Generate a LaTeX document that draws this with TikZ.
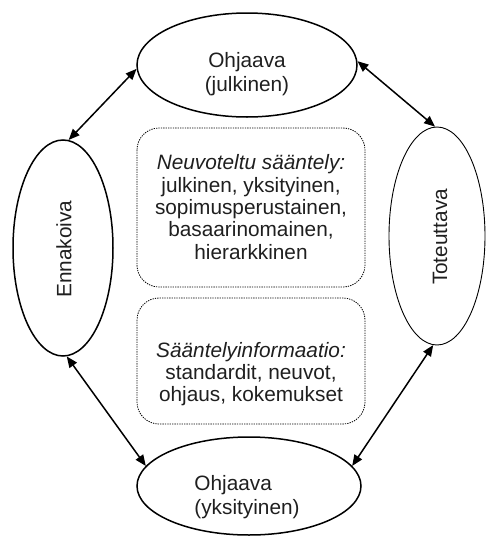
\documentclass[tikz,border=0pt]{standalone}
\usepackage{fontspec}
\setmainfont{Liberation Sans}
\usetikzlibrary{shapes.geometric,arrows.meta}
\begin{document}
\begin{tikzpicture}[x=1pt,y=-1pt,
  oval/.style={ellipse,draw=black,line width=1.5pt,inner sep=0pt},
  thinoval/.style={ellipse,draw=black,line width=0.9pt,inner sep=0pt},
  infobox/.style={draw=black,line width=0.8pt,dash pattern=on 1.3pt off 1.1pt,
    rounded corners=22pt},
  label/.style={inner sep=0pt,font=\fontsize{20.8}{24}\selectfont,text=black!88},
  boxtext/.style={inner sep=0pt,align=center,font=\fontsize{20.8}{22.3}\selectfont,text=black!88},
  link/.style={line width=1.5pt,{Triangle[length=11pt,width=9pt]}-{Triangle[length=11pt,width=9pt]}}
]
\useasboundingbox (0,0) rectangle (487,536);

% the four actors around the circle
\node[oval,minimum width=220pt,minimum height=104pt] (top) at (247,65) {};
\node[oval,minimum width=100pt,minimum height=216pt] (left) at (63,248) {};
\node[thinoval,minimum width=96pt,minimum height=218pt] (right) at (437,236) {};
\node[oval,minimum width=224pt,minimum height=98pt] (bottom) at (249,486) {};

\node[label,align=center] (toptext) at (247,74) {Ohjaava\\(julkinen)};
\node[label,rotate=90] (lefttext) at (64,249) {Ennakoiva};
\node[label,rotate=90] (righttext) at (440,237) {Toteuttava};
\node[label,align=left] (bottomtext) at (247,497) {Ohjaava\\(yksityinen)};

% the two dotted panels in the middle
\draw[infobox] (137,128) rectangle (365,287);
\draw[infobox] (137,298) rectangle (365,424);
\node[boxtext] (negotiated) at (251,207) {\textit{Neuvoteltu sääntely:}\\julkinen, yksityinen,\\sopimusperustainen,\\basaarinomainen,\\hierarkkinen};
\node[boxtext] (information) at (251,374) {\textit{Sääntelyinformaatio:}\\standardit, neuvot,\\ohjaus, kokemukset};

% two-way links
\draw[link] (top.182.6) -- (left.87.3);
\draw[link] (top.2.6) -- (right.91);
\draw[link] (left.272.6) -- (bottom.169.9);
\draw[link] (right.268) -- (bottom.11.2);
\end{tikzpicture}
\end{document}
